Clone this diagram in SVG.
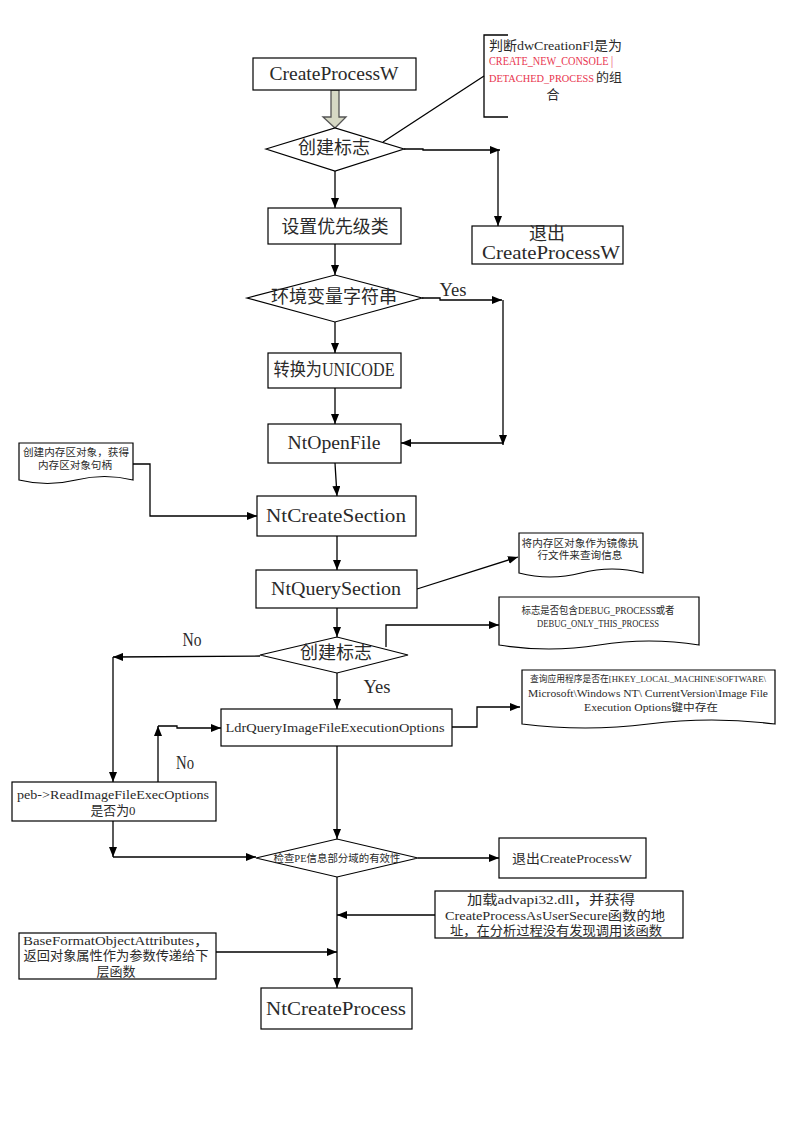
<svg xmlns="http://www.w3.org/2000/svg" width="796" height="1123" viewBox="0 0 796 1123">
<defs>
<marker id="ah" viewBox="0 0 10 8" refX="10" refY="4" markerWidth="10" markerHeight="8" markerUnits="userSpaceOnUse" orient="auto"><path d="M0,0 L10,4 L0,8 z" fill="#000"/></marker>
<style>
.box{fill:#fff;stroke:#000;stroke-width:1.2}
.ln{fill:none;stroke:#000;stroke-width:1.3}
.a{marker-end:url(#ah)}
.t{font-family:"Liberation Serif","Noto Sans CJK SC",serif;fill:#2a2a2a;text-anchor:middle;dominant-baseline:central}
.l{text-anchor:start}
.big{font-size:18px}
.sm{font-size:10.6px}
.md{font-size:13px}
.red{fill:#e8344e;font-size:11.5px}
</style>
</defs>
<rect width="796" height="1123" fill="#fff"/>

<g id="connectors">
<path d="M331,90 H339 V117 H346 L335,128 L323,117 H331 Z" style="fill:#d6d8c4;stroke:#555;stroke-width:1.3"/>
<path class="ln" d="M383,142 L484,76"/>
<path class="ln a" d="M335,171 V208"/>
<path class="ln a" d="M404,149 H423 V150 H500"/>
<path class="ln a" d="M498,150 V226"/>
<path class="ln a" d="M335,244 V275"/>
<path class="ln a" d="M422,298 H440 V300 H502"/>
<path class="ln a" d="M503,300 V445"/>
<path class="ln a" d="M503,443 H401"/>
<path class="ln a" d="M335,322 V353"/>
<path class="ln a" d="M335,388 V424"/>
<path class="ln a" d="M335,463 L337,496"/>
<path class="ln a" d="M133,464 H150 V516 H257"/>
<path class="ln a" d="M337,536 V570"/>
<path class="ln a" d="M417,589 L518,557"/>
<path class="ln a" d="M337,608 V637"/>
<path class="ln a" d="M386,647 V625 H499"/>
<path class="ln a" d="M260,656 L113,657"/>
<path class="ln a" d="M113,657 V782"/>
<path class="ln a" d="M337,673 V709"/>
<path class="ln a" d="M158,782 V726"/>
<path class="ln a" d="M158,726 H177 V728 H221"/>
<path class="ln a" d="M452,727 H477 V707 H520"/>
<path class="ln a" d="M337,746 V839"/>
<path class="ln a" d="M113,821 V857"/>
<path class="ln a" d="M113,857 H256"/>
<path class="ln a" d="M418,858 H499"/>
<path class="ln a" d="M337,877 V988"/>
<path class="ln a" d="M435,915 H337"/>
<path class="ln a" d="M216,952 H337"/>
</g>

<g id="n_createprocessw">
<rect class="box" x="253" y="58" width="163" height="32"/>
<text class="t big" x="334" y="74" textLength="129" lengthAdjust="spacingAndGlyphs">CreateProcessW</text>
</g>

<g id="n_note1">
<path class="ln" d="M508,35 H484 V117 H508"/>
<text class="t md l" x="489" y="45" textLength="133" lengthAdjust="spacingAndGlyphs">判断dwCreationFl是为</text>
<text class="t l red" x="489" y="61" textLength="124" lengthAdjust="spacingAndGlyphs">CREATE_NEW_CONSOLE |</text>
<text class="t l red" style="font-size:10px" x="489" y="78" textLength="105" lengthAdjust="spacingAndGlyphs">DETACHED_PROCESS</text>
<text class="t l" style="font-size:12.5px" x="596" y="78" textLength="26" lengthAdjust="spacingAndGlyphs">的组</text>
<text class="t md" x="553" y="94">合</text>
</g>

<g id="n_flag1">
<polygon class="box" points="266,149 335,128 404,149 335,171"/>
<text class="t big" x="334" y="148" textLength="72" lengthAdjust="spacingAndGlyphs">创建标志</text>
</g>

<g id="n_exit1">
<rect class="box" x="472" y="226" width="151" height="38"/>
<text class="t big" x="547" y="234">退出</text>
<text class="t big" x="551" y="253" textLength="138" lengthAdjust="spacingAndGlyphs">CreateProcessW</text>
</g>

<g id="n_priority">
<rect class="box" x="268" y="208" width="133" height="36"/>
<text class="t big" x="335" y="227" textLength="107" lengthAdjust="spacingAndGlyphs">设置优先级类</text>
</g>

<g id="n_env">
<polygon class="box" points="247,298 335,275 422,298 335,322"/>
<text class="t big" x="334" y="297" textLength="126" lengthAdjust="spacingAndGlyphs">环境变量字符串</text>
</g>
<text class="t big" x="453" y="290" textLength="27" lengthAdjust="spacingAndGlyphs">Yes</text>

<g id="n_unicode">
<rect class="box" x="268" y="353" width="133" height="35"/>
<text class="t big" x="334" y="370" textLength="121" lengthAdjust="spacingAndGlyphs">转换为UNICODE</text>
</g>

<g id="n_ntopenfile">
<rect class="box" x="268" y="424" width="133" height="39"/>
<text class="t big" x="334" y="443" textLength="93" lengthAdjust="spacingAndGlyphs">NtOpenFile</text>
</g>

<g id="n_doc1">
<path class="box" d="M19,443 H133 V480 Q104.5,473 76,480 T19,480 Z"/>
<text class="t sm" x="76" y="452" textLength="106" lengthAdjust="spacingAndGlyphs">创建内存区对象，获得</text>
<text class="t sm" x="75" y="465" textLength="74" lengthAdjust="spacingAndGlyphs">内存区对象句柄</text>
</g>

<g id="n_ntcreatesection">
<rect class="box" x="257" y="496" width="159" height="40"/>
<text class="t big" x="336" y="516" textLength="140" lengthAdjust="spacingAndGlyphs">NtCreateSection</text>
</g>

<g id="n_ntquerysection">
<rect class="box" x="256" y="570" width="161" height="38"/>
<text class="t big" x="336" y="589" textLength="130" lengthAdjust="spacingAndGlyphs">NtQuerySection</text>
</g>

<g id="n_doc2">
<path class="box" d="M519,533 H643 V573 Q612,565 581,573 T519,573 Z"/>
<text class="t sm" x="580" y="543" textLength="117" lengthAdjust="spacingAndGlyphs">将内存区对象作为镜像执</text>
<text class="t sm" x="580" y="555" textLength="85" lengthAdjust="spacingAndGlyphs">行文件来查询信息</text>
</g>

<g id="n_doc3">
<path class="box" d="M499,597 H699 V645 Q649,637 599,645 T499,645 Z"/>
<text class="t sm" x="598" y="610" textLength="153" lengthAdjust="spacingAndGlyphs">标志是否包含DEBUG_PROCESS或者</text>
<text class="t sm" x="598" y="623" textLength="122" lengthAdjust="spacingAndGlyphs">DEBUG_ONLY_THIS_PROCESS</text>
</g>

<g id="n_flag2">
<polygon class="box" points="260,655 337,637 408,655 337,673"/>
<text class="t big" x="336" y="653" textLength="72" lengthAdjust="spacingAndGlyphs">创建标志</text>
</g>
<text class="t big" x="192" y="640" textLength="19" lengthAdjust="spacingAndGlyphs">No</text>
<text class="t big" x="377" y="687" textLength="27" lengthAdjust="spacingAndGlyphs">Yes</text>

<g id="n_ldrquery">
<rect class="box" x="221" y="709" width="231" height="37"/>
<text class="t md" x="335" y="727" textLength="219" lengthAdjust="spacingAndGlyphs">LdrQueryImageFileExecutionOptions</text>
</g>
<text class="t big" x="185" y="763" textLength="18" lengthAdjust="spacingAndGlyphs">No</text>

<g id="n_doc4">
<path class="box" d="M522,670 H775 V724 Q711.75,716 648.5,724 T522,724 Z"/>
<text class="t" style="font-size:9.2px" x="648" y="679" textLength="236" lengthAdjust="spacingAndGlyphs">查询应用程序是否在[HKEY_LOCAL_MACHINE\SOFTWARE\</text>
<text class="t sm" x="648" y="693" textLength="240" lengthAdjust="spacingAndGlyphs">Microsoft\Windows NT\ CurrentVersion\Image File</text>
<text class="t sm" x="651" y="707" textLength="134" lengthAdjust="spacingAndGlyphs">Execution Options键中存在</text>
</g>

<g id="n_peb">
<rect class="box" x="12" y="782" width="204" height="39"/>
<text class="t md" x="113" y="794" textLength="192" lengthAdjust="spacingAndGlyphs">peb-&gt;ReadImageFileExecOptions</text>
<text class="t md" x="113" y="810" textLength="45" lengthAdjust="spacingAndGlyphs">是否为0</text>
</g>

<g id="n_checkpe">
<polygon class="box" points="256,858 337,839 418,858 337,877"/>
<text class="t" style="font-size:10.6px" x="337" y="858" textLength="127" lengthAdjust="spacingAndGlyphs">检查PE信息部分域的有效性</text>
</g>

<g id="n_exit2">
<rect class="box" x="499" y="838" width="147" height="40"/>
<text class="t md" x="572" y="858" textLength="120" lengthAdjust="spacingAndGlyphs">退出CreateProcessW</text>
</g>

<g id="n_advapi">
<rect class="box" x="435" y="891" width="248" height="47"/>
<text class="t md" x="551" y="899" textLength="168" lengthAdjust="spacingAndGlyphs">加载advapi32.dll，并获得</text>
<text class="t md" x="555" y="915" textLength="220" lengthAdjust="spacingAndGlyphs">CreateProcessAsUserSecure函数的地</text>
<text class="t md" x="556" y="930" textLength="212" lengthAdjust="spacingAndGlyphs">址，在分析过程没有发现调用该函数</text>
</g>

<g id="n_baseformat">
<rect class="box" x="19" y="933" width="197" height="46"/>
<text class="t md" x="116" y="940" textLength="186" lengthAdjust="spacingAndGlyphs">BaseFormatObjectAttributes，</text>
<text class="t md" x="116" y="955" textLength="185" lengthAdjust="spacingAndGlyphs">返回对象属性作为参数传递给下</text>
<text class="t md" x="116" y="971" textLength="39" lengthAdjust="spacingAndGlyphs">层函数</text>
</g>

<g id="n_ntcreateprocess">
<rect class="box" x="261" y="988" width="151" height="41"/>
<text class="t big" x="336" y="1009" textLength="140" lengthAdjust="spacingAndGlyphs">NtCreateProcess</text>
</g>
</svg>
